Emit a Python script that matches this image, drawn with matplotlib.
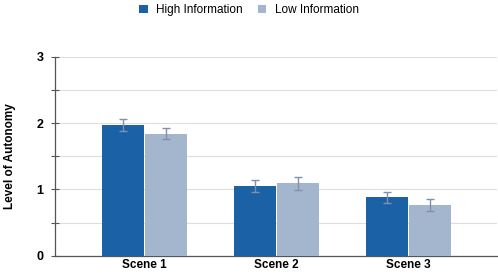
import numpy as np
import matplotlib
matplotlib.use('Agg')
import matplotlib.pyplot as plt
from matplotlib.ticker import MultipleLocator

plt.rcParams['font.family'] = ['Liberation Sans', 'DejaVu Sans']

# Data
scenes = ['Scene 1', 'Scene 2', 'Scene 3']
high_info = [1.97, 1.05, 0.88]
high_err = [0.085, 0.085, 0.08]
low_info = [1.84, 1.09, 0.77]
low_err = [0.08, 0.10, 0.09]
series_names = ['High Information', 'Low Information']

high_color = '#1b61a6'
low_color = '#a4b6cd'
err_color = '#8190a8'

fig = plt.figure(figsize=(4.98, 2.73), dpi=100)
ax = fig.add_axes([0.1098, 0.0634, 0.888, 0.729])

x = np.arange(len(scenes))
w = 0.314
gap = 0.006
err_kw = dict(ecolor=err_color, elinewidth=1.0, capsize=3, capthick=1.0)
ax.bar(x - w / 2 - gap, high_info, w, yerr=high_err, color=high_color,
       label=series_names[0], error_kw=err_kw, zorder=3)
ax.bar(x + w / 2 + gap, low_info, w, yerr=low_err, color=low_color,
       label=series_names[1], error_kw=err_kw, zorder=3)

ax.set_xlim(-0.68, 2.67)
ax.set_ylim(0, 3)
ax.yaxis.set_major_locator(MultipleLocator(1))
ax.yaxis.set_minor_locator(MultipleLocator(0.5))
ax.grid(axis='y', which='both', color='#dedede', linewidth=0.8, zorder=0)

ax.set_xticks(x)
ax.set_xticklabels(scenes, fontsize=8.5, fontweight='bold')
ax.tick_params(axis='x', length=0, pad=2.5)
ax.tick_params(axis='y', which='both', direction='inout', length=6,
               width=0.8, color='#555555', labelsize=9, pad=5)
for lbl in ax.get_yticklabels():
    lbl.set_fontweight('bold')

for side in ['top', 'right']:
    ax.spines[side].set_visible(False)
ax.spines['left'].set_color('#555555')
ax.spines['bottom'].set_color('#555555')
ax.spines['left'].set_linewidth(0.9)
ax.spines['bottom'].set_linewidth(0.9)

ax.set_ylabel('Level of Autonomy', fontsize=8.5, fontweight='bold', labelpad=15)

fig.legend(loc='upper center', bbox_to_anchor=(0.5, 1.01), ncol=2,
           frameon=False, fontsize=8.5, handlelength=0.7, handleheight=0.7,
           handletextpad=0.7, columnspacing=1.3, borderaxespad=0.2)

fig.savefig('out.png', dpi=100)
